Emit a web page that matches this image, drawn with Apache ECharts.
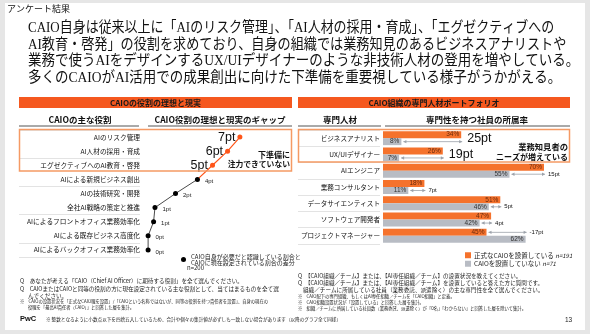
<!DOCTYPE html>
<html>
<head>
<meta charset="utf-8">
<script src="https://cdn.jsdelivr.net/npm/echarts/dist/echarts.min.js"></script>
<style>
  html, body { margin: 0; padding: 0; background: #e6e6e6; }
  #chart { width: 590px; height: 334px; }
</style>
</head>
<body>
<div id="chart"></div>
<script>
// left panel: gap between ideal and actual CAIO roles
const roles = ['AIのリスク管理', 'AI人材の採用・育成', 'エグゼクティブへのAI教育・啓発', 'AIによる新規ビジネス創出',
  'AIの技術研究・開発', '全社AI戦略の策定と推進', 'AIによるフロントオフィス業務効率化', 'AIによる既存ビジネス高度化',
  'AIによるバックオフィス業務効率化'];
const roleGap = [7.0, 6.1, 5.0, 3.9, 2.3, 0.8, 0.7, 0.3, 0.3];
const roleGapLabels = ['7pt', '6pt', '5pt', '4pt', '2pt', '1pt', '1pt', '0pt', '0pt'];

// right panel: share of specialists in CAIO organisations
const talents = ['ビジネスアナリスト', 'UX/UIデザイナー', 'AIエンジニア', '業務コンサルタント',
  'データサイエンティスト', 'ソフトウェア開発者', 'プロジェクトマネージャー'];
const rateWithCaio = [34, 26, 70, 18, 51, 47, 45];
const rateWithoutCaio = [8, 7, 55, 11, 46, 42, 62];
const talentGapLabels = ['25pt', '19pt', '15pt', '7pt', '5pt', '4pt', '-17pt'];
const groupNames = ['正式なCAIOを設置している', 'CAIOを設置していない'];
const groupSizes = ['n=191', 'n=71'];

const JP = "'Noto Sans CJK JP', sans-serif";
const TITLE_FONT = "'Liberation Serif', 'Noto Sans CJK JP', serif";
const SANS = "'Liberation Sans', sans-serif";
const HEADER = '#f5581f';
const BAR_ORANGE = '#f5722c';
const BAR_GREY = '#b8bcc4';
const BOX = '#f59a64';
const ARROW = '#9ca2aa';
const BAR_H = 7;
const BOXED_ROLES = 3;
const BOXED_TALENTS = 2;
const gapName = 'CAIO自身が必要だと認識している割合と\nCAIOに現在設定されている割合の差分';

function txt(x, y, text, size, extra) {
  return {
    type: 'text', x: x, y: y,
    style: Object.assign({
      text: text, fontSize: size, fontFamily: JP, fill: '#222',
      align: 'left', verticalAlign: 'middle'
    }, extra || {})
  };
}
// the slide uses a proportional font, so the lines are squeezed a little differently
function lead(y, text, squeeze) {
  var t = txt(28, y, text, 15, { fontFamily: TITLE_FONT, fill: '#111' });
  t.scaleX = squeeze;
  return t;
}
function hline(x1, x2, y, color, w) {
  return { type: 'line', shape: { x1: x1, y1: y, x2: x2, y2: y }, style: { stroke: color, lineWidth: w } };
}

function renderGapArrow(params, api) {
  var a = api.value(0), b = api.value(1), idx = api.value(2);
  var center = api.coord([0, idx])[1];
  var rowY = center + (a > b ? BAR_H / 2 : -BAR_H / 2);
  var x1 = api.coord([Math.min(a, b), idx])[0] + 2;
  var x2 = api.coord([Math.max(a, b), idx])[0] + 1;
  var head = 3, half = 1.7;
  var big = idx < BOXED_TALENTS;
  return {
    type: 'group',
    children: [
      { type: 'line', shape: { x1: x1, y1: rowY, x2: x2, y2: rowY }, style: { stroke: ARROW, lineWidth: 0.8 } },
      { type: 'polygon', shape: { points: [[x1, rowY], [x1 + head, rowY - half], [x1 + head, rowY + half]] }, style: { fill: ARROW } },
      { type: 'polygon', shape: { points: [[x2, rowY], [x2 - head, rowY - half], [x2 - head, rowY + half]] }, style: { fill: ARROW } },
      {
        type: 'text', x: big ? x2 + 5 : x2 + 3, y: big ? center : rowY,
        style: {
          text: talentGapLabels[idx], fontSize: big ? 12.5 : 6, fontFamily: SANS,
          fill: '#111', align: 'left', verticalAlign: 'middle'
        }
      }
    ]
  };
}

const chart = echarts.init(document.getElementById('chart'));

const graphics = [
  { type: 'rect', z: -10, shape: { x: 5, y: 3, width: 580, height: 327 }, style: { fill: '#fff' } },
  txt(7, 9, 'アンケート結果', 9, { fill: '#111' }),
  lead(28.5, 'CAIO自身は従来以上に「AIのリスク管理」、「AI人材の採用・育成」、「エグゼクティブへの', 0.865),
  lead(45, 'AI教育・啓発」の役割を求めており、自身の組織では業務知見のあるビジネスアナリストや', 0.875),
  lead(61.5, '業務で使うAIをデザインするUX/UIデザイナーのような非技術人材の登用を増やしている。', 0.9),
  lead(78, '多くのCAIOがAI活用での成果創出に向けた下準備を重要視している様子がうかがえる。', 0.9),

  // panel headers
  { type: 'rect', shape: { x: 19, y: 97, width: 273, height: 11 }, style: { fill: HEADER } },
  txt(155.5, 102.5, 'CAIOの役割の理想と現実', 8, { align: 'center', fontWeight: 'bold', fill: '#1a1a1a' }),
  { type: 'rect', shape: { x: 298, y: 97, width: 272, height: 11 }, style: { fill: HEADER } },
  txt(434, 102.5, 'CAIO組織の専門人材ポートフォリオ', 8, { align: 'center', fontWeight: 'bold', fill: '#1a1a1a' }),

  txt(80, 120, 'CAIOの主な役割', 8.5, { align: 'center', fontWeight: 'bold', fill: '#111' }),
  hline(19, 139, 126, '#555', 1),
  txt(220, 120, 'CAIO役割の理想と現実のギャップ', 8.5, { align: 'center', fontWeight: 'bold', fill: '#111' }),
  hline(148, 292, 126, '#555', 1),
  txt(340, 120, '専門人材', 8.5, { align: 'center', fontWeight: 'bold', fill: '#111' }),
  hline(298, 381, 126, '#555', 1),
  txt(477, 120, '専門性を持つ社員の所属率', 8.5, { align: 'center', fontWeight: 'bold', fill: '#111' }),
  hline(385, 570, 126, '#555', 1),

  // highlight boxes
  { type: 'rect', z: 5, shape: { x: 19.5, y: 129.5, width: 272, height: 41.5 }, style: { fill: 'none', stroke: BOX, lineWidth: 1.5 } },
  { type: 'rect', z: 5, shape: { x: 298.5, y: 129.5, width: 271, height: 32.5 }, style: { fill: 'none', stroke: BOX, lineWidth: 1.5 } },
  txt(290, 155, '下準備に', 8, { align: 'right', fontWeight: 'bold', fill: '#111' }),
  txt(290, 164.5, '注力できていない', 7.8, { align: 'right', fontWeight: 'bold', fill: '#111' }),
  txt(568, 147, '業務知見者の', 8.3, { align: 'right', fontWeight: 'bold', fill: '#111' }),
  txt(568, 156.5, 'ニーズが増えている', 8, { align: 'right', fontWeight: 'bold', fill: '#111' }),

  txt(187, 268, 'n=200', 6),

  // notes, left
  txt(20, 281, 'Q　あなたが考える「CAIO（Chief AI Officer）に期待する役割」を全て選んでください。', 5.6),
  txt(20, 289, 'Q　CAIOまたはCAIOと同等の役割の方に現在設定されている主な役割として、当てはまるものを全て選', 5.6),
  txt(28, 295.5, 'んでください。', 5.6),
  txt(20, 301, '※　CAIOの設置状況を「正式なCAIO職を設置」/「CAIOという名称ではないが、同等の役割を持つ責任者を設置」、自身の現在の', 4.3),
  txt(28, 307, '役職を「最高AI責任者（CAIO）」と回答した層を集計。', 4.3),

  // notes, right
  txt(298, 275.5, 'Q　【CAIO組織／チーム】または、【AI専任組織／チーム】の設置状況を教えてください。', 5.6),
  txt(298, 282.5, 'Q　【CAIO組織／チーム】または、【AI専任組織／チーム】を設置していると答えた方に質問です。', 5.6),
  txt(303, 289.5, '組織／チームに所属している社員（業務委託、派遣除く）の主な専門性を全て選んでください。', 5.6),
  txt(298, 296.5, '※　CAIO配下の専門組織、もしくはAI専任組織／チームを「CAIO組織」と定義。', 4.3),
  txt(298, 302.5, '※　CAIO組織設置状況が「設置している」と回答した層を集計。', 4.3),
  txt(298, 308.5, '※　組織／チームに所属している社員数（業務委託、派遣除く）が「0名」「わからない」と回答した層を除いて集計。', 4.3),

  txt(20, 319, 'PwC', 7.5, { fontWeight: 'bold', fontFamily: SANS, fill: '#111' }),
  txt(46, 319.5, '※ 整数となるように小数点以下を四捨五入しているため、合計や個々の集計値が必ずしも一致しない場合があります（以降のグラフ全て同様）', 4.6),
  txt(565, 320, '13', 6.5, { fontFamily: SANS })
];

chart.setOption({
  backgroundColor: '#e6e6e6',
  animation: false,
  textStyle: { fontFamily: JP },
  grid: [
    { left: 144, width: 137, top: 130, height: 127 },
    { left: 19, width: 121, top: 130, height: 127 },
    { left: 383, width: 161, top: 130, height: 114 },
    { left: 298, width: 82, top: 130, height: 114 }
  ],
  xAxis: [
    { gridIndex: 0, type: 'value', min: 0, max: 10, show: false },
    { gridIndex: 1, type: 'value', show: false },
    { gridIndex: 2, type: 'value', min: 0, max: 70, show: false },
    { gridIndex: 3, type: 'value', show: false }
  ],
  yAxis: [
    {
      gridIndex: 0, type: 'category', data: roles, inverse: true,
      axisLine: { show: false }, axisTick: { show: false },
      axisLabel: { margin: 4, fontSize: 6.7, color: '#111' }
    },
    {
      gridIndex: 1, type: 'category', data: roles, inverse: true,
      axisLine: { show: false }, axisTick: { show: false }, axisLabel: { show: false },
      splitLine: { show: true, lineStyle: { color: '#dcdcdc', width: 0.8 } }
    },
    {
      gridIndex: 2, type: 'category', data: talents, inverse: true,
      axisLine: { show: false }, axisTick: { show: false },
      axisLabel: { margin: 3, fontSize: 6.6, color: '#111' }
    },
    {
      gridIndex: 3, type: 'category', data: talents, inverse: true,
      axisLine: { show: false }, axisTick: { show: false }, axisLabel: { show: false },
      splitLine: { show: true, lineStyle: { color: '#dcdcdc', width: 0.8 } }
    }
  ],
  legend: [
    {
      data: [gapName], left: 176, top: 248, icon: 'circle', itemWidth: 5, itemHeight: 5,
      itemGap: 0, selectedMode: false,
      textStyle: { fontSize: 6, lineHeight: 6.5, color: '#222' }
    },
    {
      data: groupNames, left: 460, top: 247, orient: 'vertical', icon: 'rect',
      itemWidth: 6, itemHeight: 6, itemGap: 2, selectedMode: false,
      formatter: function (name) {
        return name + ' {n|' + groupSizes[groupNames.indexOf(name)] + '}';
      },
      textStyle: {
        fontSize: 6.5, lineHeight: 6, color: '#222', padding: [0, 0, 0, -2],
        rich: { n: { fontSize: 6, fontStyle: 'italic', color: '#222' } }
      }
    }
  ],
  series: [
    {
      name: 'boxed', type: 'line', xAxisIndex: 0, yAxisIndex: 0, z: 3,
      data: roles.slice(0, BOXED_ROLES + 1).map(function (r, i) { return [roleGap[i], r]; }),
      symbol: 'circle',
      symbolSize: function (v, p) { return p.dataIndex < BOXED_ROLES ? 5 : 0; },
      itemStyle: { color: '#ff5519' },
      lineStyle: { color: '#ff5519', width: 1.2 },
      label: {
        show: true, position: 'left', distance: 2, fontSize: 12.5, color: '#111', fontFamily: SANS,
        formatter: function (p) { return p.dataIndex < BOXED_ROLES ? roleGapLabels[p.dataIndex] : ''; }
      }
    },
    {
      name: gapName, type: 'line', xAxisIndex: 0, yAxisIndex: 0, z: 4,
      data: roles.slice(BOXED_ROLES).map(function (r, i) { return [roleGap[i + BOXED_ROLES], r]; }),
      symbol: 'circle', symbolSize: 5,
      itemStyle: { color: '#000' },
      lineStyle: { color: '#4a4a4a', width: 1 },
      label: {
        show: true, position: 'right', distance: 5, offset: [0, 2], fontSize: 6, color: '#222', fontFamily: SANS,
        formatter: function (p) { return roleGapLabels[p.dataIndex + BOXED_ROLES]; }
      }
    },
    {
      name: groupNames[0], type: 'bar', xAxisIndex: 2, yAxisIndex: 2,
      data: rateWithCaio, barWidth: BAR_H, barGap: '0%',
      itemStyle: { color: BAR_ORANGE },
      label: {
        show: true, position: 'insideRight', distance: 2, fontSize: 6.5, color: '#6b2a0c',
        fontFamily: SANS, formatter: '{c}%'
      }
    },
    {
      name: groupNames[1], type: 'bar', xAxisIndex: 2, yAxisIndex: 2,
      data: rateWithoutCaio, barWidth: BAR_H, barGap: '0%',
      itemStyle: { color: BAR_GREY },
      label: {
        show: true, position: 'insideRight', distance: 2, fontSize: 6.5, color: '#333',
        fontFamily: SANS, formatter: '{c}%'
      }
    },
    {
      name: 'gap', type: 'custom', xAxisIndex: 2, yAxisIndex: 2, z: 5,
      encode: { x: [0, 1], y: 2 },
      data: talents.map(function (t, i) { return [rateWithCaio[i], rateWithoutCaio[i], i]; }),
      renderItem: renderGapArrow
    }
  ],
  graphic: graphics
});
</script>
</body>
</html>
